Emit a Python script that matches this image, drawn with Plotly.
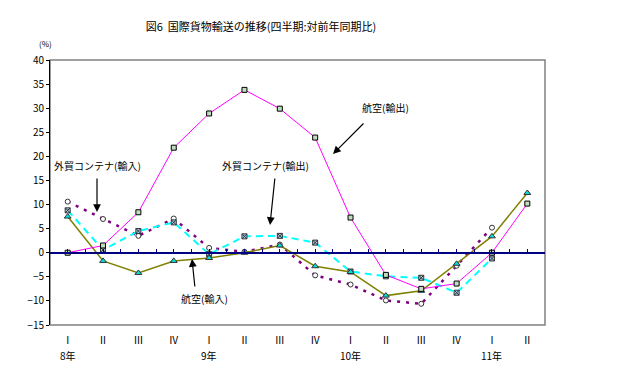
import plotly.graph_objects as go

quarters = ["Ⅰ", "Ⅱ", "Ⅲ", "Ⅳ", "Ⅰ", "Ⅱ", "Ⅲ", "Ⅳ", "Ⅰ", "Ⅱ", "Ⅲ", "Ⅳ", "Ⅰ", "Ⅱ"]
years = ["8年", "", "", "", "9年", "", "", "", "10年", "", "", "", "11年", ""]

air_export = [0.0, 1.5, 8.4, 21.8, 28.9, 33.8, 29.9, 23.9, 7.3, -4.6, -7.5, -6.4, 0.0, 10.2]
air_import = [7.5, -1.7, -4.2, -1.7, -1.1, 0.0, 1.5, -2.8, -4.0, -8.9, -7.9, -2.3, 3.4, 12.4]
cont_import = [10.6, 7.0, 3.5, 7.1, 1.0, 0.2, 1.7, -4.7, -6.6, -9.9, -10.6, -2.7, 5.2, None]
cont_export = [8.8, 0.6, 4.5, 6.3, -0.3, 3.4, 3.5, 2.1, -3.9, -4.9, -5.2, -8.3, -1.2, None]

x = list(range(len(quarters)))

FONT = "Noto Sans CJK JP"
OFF = 8  # page body margin of the browser
PL, PR, PT, PB = 50, 545, 60, 325  # plot area in window pixels
PW, PH = PR - PL, PB - PT


def px(wx):
    return (wx - PL) / PW


def py(wy):
    return (PB - wy) / PH


fig = go.Figure()

fig.add_trace(go.Scatter(x=x, y=cont_import, mode="lines+markers", name="外貿コンテナ(輸入)",
                         line=dict(color="#800080", width=2.5, dash="3px,6px"),
                         marker=dict(symbol="circle", size=5, color="white",
                                     line=dict(color="#333333", width=1))))
fig.add_trace(go.Scatter(x=x, y=cont_export, mode="lines+markers", name="外貿コンテナ(輸出)",
                         line=dict(color="#00ffff", width=2, dash="7px,5px"),
                         marker=dict(symbol="square-x", size=5, color="#a6caf0",
                                     line=dict(color="#333333", width=1))))
fig.add_trace(go.Scatter(x=x, y=air_import, mode="lines+markers", name="航空(輸入)",
                         line=dict(color="#808000", width=1.5),
                         marker=dict(symbol="triangle-up", size=6, color="#00e0e0",
                                     line=dict(color="#333333", width=1))))
fig.add_trace(go.Scatter(x=x, y=air_export, mode="lines+markers", name="航空(輸出)",
                         line=dict(color="#ff00ff", width=1),
                         marker=dict(symbol="square", size=5, color="#c0dcc0",
                                     line=dict(color="#000000", width=1))))

# invisible trace for the zero-crossing category axis
fig.add_trace(go.Scatter(x=[-0.5, 13.5], y=[0, 0], xaxis="x2", mode="lines",
                         line=dict(color="rgba(0,0,0,0)"), hoverinfo="skip", showlegend=False))

fig.update_layout(
    width=624, height=377,
    margin=dict(l=PL - OFF, r=624 - (PR - OFF), t=PT - OFF, b=377 - (PB - OFF)),
    paper_bgcolor="white", plot_bgcolor="white",
    showlegend=False,
    font=dict(family=FONT, size=10, color="black"),
    title=dict(text="図6  国際貨物輸送の推移(四半期:対前年同期比)", x=(261 - OFF) / 624,
               xanchor="center", y=1 - (27 - OFF) / 377, yanchor="middle",
               font=dict(family=FONT, size=11), automargin=False),
    xaxis=dict(range=[-0.5, 13.5], tickvals=x, ticktext=quarters, showgrid=False,
               zeroline=False, showline=False, ticks="", ticklabelstandoff=8,
               tickfont=dict(family=FONT, size=10), automargin=False),
    xaxis2=dict(range=[-0.5, 13.5], overlaying="x", anchor="free", position=15 / 55,
                showline=True, linecolor="#000080", linewidth=1.5, ticks="inside",
                ticklen=3, tickcolor="#000080", tick0=0, dtick=0.5,
                showticklabels=False, showgrid=False, zeroline=False, automargin=False),
    yaxis=dict(range=[-15, 40], dtick=5, showgrid=False, zeroline=False,
               showline=True, linecolor="black", linewidth=1, ticks="outside",
               ticklen=3, tickcolor="black", tickfont=dict(family=FONT, size=10),
               automargin=False),
    shapes=[dict(type="rect", xref="paper", yref="paper", x0=0, x1=1, y0=0, y1=1,
                 line=dict(color="#808080", width=1.5), layer="below")],
)

# year labels under the quarter labels
for xi, yr in zip(x, years):
    if yr:
        fig.add_annotation(text=yr, x=xi, xref="x", y=py(355), yref="paper",
                           showarrow=False, xanchor="center", yanchor="middle",
                           font=dict(size=10))

fig.add_annotation(text="(%)", xref="paper", yref="paper", x=px(45), y=py(43),
                   showarrow=False, xanchor="center", yanchor="middle", font=dict(size=8))

annots = [
    ("航空(輸出)", 385, 107, 365, 122, 333, 154),
    ("外貿コンテナ(輸入)", 97, 165, 97, 177, 97, 212),
    ("外貿コンテナ(輸出)", 265, 165, 275, 177, 270, 225),
    ("航空(輸入)", 204, 298, 195, 288, 192, 259),
]
for text, tx, ty, sx, sy, ex, ey in annots:
    fig.add_annotation(text=text, xref="paper", yref="paper",
                       x=px(tx), y=py(ty), showarrow=False,
                       xanchor="center", yanchor="middle", font=dict(size=10))
    fig.add_annotation(text="", xref="paper", yref="paper",
                       x=px(ex), y=py(ey),
                       ax=sx - ex, ay=sy - ey,
                       showarrow=True, arrowhead=2, arrowsize=1.3, arrowwidth=1.2,
                       arrowcolor="black")

fig.write_html("out.html")
